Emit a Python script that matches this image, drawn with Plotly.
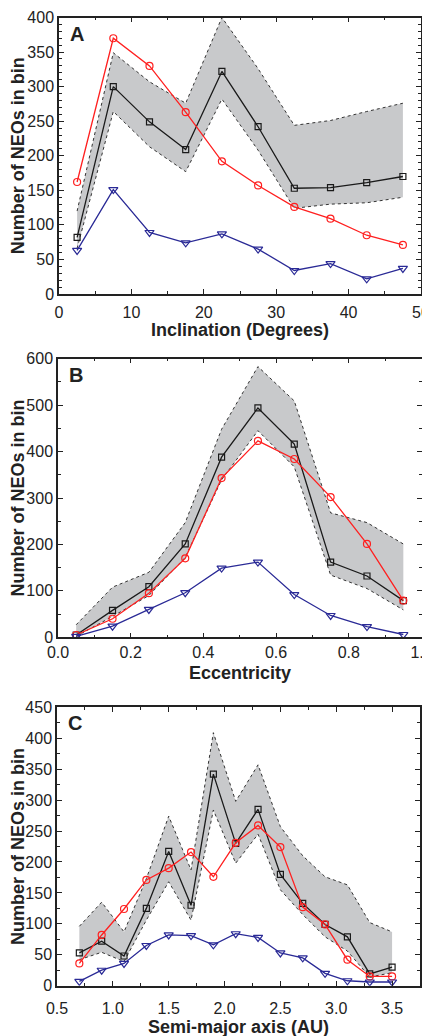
import plotly.graph_objects as go

# ---------------- Data ----------------
incl_x = [2.5, 7.5, 12.5, 17.5, 22.5, 27.5, 32.5, 37.5, 42.5, 47.5]
incl_model = [82, 300, 249, 209, 322, 242, 153, 154, 161, 170]
incl_upper = [120, 349, 307, 276, 400, 326, 244, 251, 264, 276]
incl_lower = [66, 264, 213, 177, 282, 208, 124, 130, 132, 140]
incl_obs = [162, 370, 330, 263, 192, 157, 126, 109, 85, 71]
incl_known = [63, 151, 89, 74, 87, 65, 34, 44, 22, 37]

ecc_x = [0.05, 0.15, 0.25, 0.35, 0.45, 0.55, 0.65, 0.75, 0.85, 0.95]
ecc_model = [5, 58, 109, 201, 388, 494, 416, 162, 132, 79]
ecc_upper = [27, 108, 140, 247, 448, 583, 509, 268, 247, 201]
ecc_lower = [2, 45, 90, 172, 339, 445, 367, 134, 105, 59]
ecc_obs = [5, 40, 95, 170, 343, 423, 384, 302, 201, 79]
ecc_known = [2, 24, 60, 96, 149, 162, 92, 47, 23, 6]

sma_x = [0.7, 0.9, 1.1, 1.3, 1.5, 1.7, 1.9, 2.1, 2.3, 2.5, 2.7, 2.9, 3.1, 3.3, 3.5]
sma_model = [53, 72, 48, 125, 217, 130, 342, 230, 285, 180, 133, 99, 79, 19, 30]
sma_upper = [96, 135, 87, 173, 274, 187, 409, 298, 357, 257, 210, 176, 163, 102, 87]
sma_lower = [42, 54, 39, 106, 168, 106, 284, 198, 245, 155, 115, 79, 56, 14, 21]
sma_obs = [36, 82, 124, 171, 190, 216, 176, 231, 259, 224, 127, 99, 42, 15, 15]
sma_known = [7, 25, 36, 65, 82, 81, 66, 84, 78, 53, 45, 20, 8, 6, 6]

incl_ticks = [0, 10, 20, 30, 40, 50]
ecc_ticks = [0.0, 0.2, 0.4, 0.6, 0.8, 1.0]
sma_ticks = [0.5, 1.0, 1.5, 2.0, 2.5, 3.0, 3.5]

panel_labels = ["A", "B", "C"]
x_titles = ["Inclination (Degrees)", "Eccentricity", "Semi-major axis (AU)"]
y_title = "Number of NEOs in bin"

# ---------------- Style ----------------
PAGE_W, PAGE_H = 430, 1036
OFF = 8  # default body margin of the html page
W, H = PAGE_W - OFF, PAGE_H - OFF
FONT = "Liberation Sans, Arial, sans-serif"
BLACK = "#1a1a1a"
RED = "#ff2020"
BLUE = "#2a2a96"
BAND = "#c8c9cb"
INK = "#222222"

# page-pixel boxes of the plot areas: (left, right, top, bottom)
boxes = [(59, 421, 17.5, 294), (58, 421.5, 358.7, 637.3), (57, 420, 707.3, 985.7)]

def px_x(v):
    return (v - OFF) / W

def px_y(v):
    return 1 - (v - OFF) / H

fig = go.Figure()

datasets = [
    (incl_x, incl_model, incl_upper, incl_lower, incl_obs, incl_known),
    (ecc_x, ecc_model, ecc_upper, ecc_lower, ecc_obs, ecc_known),
    (sma_x, sma_model, sma_upper, sma_lower, sma_obs, sma_known),
]

for i, (x, model, up, lo, obs, known) in enumerate(datasets):
    xa = "x" if i == 0 else f"x{i+1}"
    ya = "y" if i == 0 else f"y{i+1}"
    fig.add_trace(go.Scatter(x=x, y=lo, mode="lines", xaxis=xa, yaxis=ya,
                             line=dict(color="#333333", width=1, dash="dot"),
                             showlegend=False, hoverinfo="skip"))
    fig.add_trace(go.Scatter(x=x, y=up, mode="lines", xaxis=xa, yaxis=ya,
                             fill="tonexty", fillcolor=BAND,
                             line=dict(color="#333333", width=1, dash="dot"),
                             showlegend=False, hoverinfo="skip"))
    fig.add_trace(go.Scatter(x=x, y=model, mode="lines+markers", xaxis=xa, yaxis=ya,
                             line=dict(color=BLACK, width=1.3),
                             marker=dict(symbol="square-open", size=6, color=BLACK,
                                         line=dict(width=1.2, color=BLACK)),
                             showlegend=False))
    fig.add_trace(go.Scatter(x=x, y=obs, mode="lines+markers", xaxis=xa, yaxis=ya,
                             line=dict(color=RED, width=1.3),
                             marker=dict(symbol="circle-open", size=7, color=RED,
                                         line=dict(width=1.2, color=RED)),
                             showlegend=False))
    fig.add_trace(go.Scatter(x=x, y=known, mode="lines+markers", xaxis=xa, yaxis=ya,
                             line=dict(color=BLUE, width=1.3),
                             marker=dict(symbol="triangle-down-open", size=8, color=BLUE,
                                         line=dict(width=1.2, color=BLUE)),
                             showlegend=False))

x_cfg = [
    dict(range=[0, 50], ticks_=incl_ticks, minor_dtick=5, tick0=0, standoff=3, fmt=""),
    dict(range=[0, 1.0], ticks_=ecc_ticks, minor_dtick=0.1, tick0=0, standoff=0, fmt=".1f"),
    dict(range=[0.5, 3.75], ticks_=sma_ticks, minor_dtick=0.25, tick0=0.5, standoff=7, fmt=".1f"),
]
y_cfg = [
    dict(range=[0, 400], dtick=50, minor_dtick=10),
    dict(range=[0, 600], dtick=100, minor_dtick=50),
    dict(range=[0, 450], dtick=50, minor_dtick=25),
]
x_title_offsets = [36, 36, 41]

layout = dict(
    width=W, height=H,
    margin=dict(l=0, r=0, t=0, b=0, autoexpand=False),
    paper_bgcolor="white", plot_bgcolor="white",
    font=dict(family=FONT, color=INK),
    showlegend=False,
    annotations=[],
)

for i in range(3):
    l, r, t, b = boxes[i]
    xc, yc = x_cfg[i], y_cfg[i]
    sfx = "" if i == 0 else str(i + 1)
    tv = xc["ticks_"]
    tt = [format(v, xc["fmt"]) for v in tv]
    xaxis = dict(
        domain=[px_x(l), px_x(r)], anchor="y" + sfx, range=xc["range"],
        tickmode="array", tickvals=tv, ticktext=tt,
        ticks="inside", ticklen=5, tickwidth=1, tickcolor=INK,
        minor=dict(ticks="inside", ticklen=3, tickwidth=1, tickcolor=INK,
                   tickmode="linear", dtick=xc["minor_dtick"], tick0=xc["tick0"],
                   showgrid=False),
        showline=True, linecolor=INK, linewidth=1.5, mirror="ticks",
        showgrid=False, zeroline=False, automargin=False,
        tickfont=dict(size=16, family=FONT, color=INK),
        ticklabelstandoff=xc["standoff"],
        ticklabeloverflow="allow",
    )
    yaxis = dict(
        domain=[px_y(b), px_y(t)], anchor="x" + sfx, range=yc["range"],
        tickmode="linear", tick0=0, dtick=yc["dtick"],
        ticks="inside", ticklen=5, tickwidth=1, tickcolor=INK,
        minor=dict(ticks="inside", ticklen=3, tickwidth=1, tickcolor=INK,
                   dtick=yc["minor_dtick"], tick0=0, showgrid=False),
        showline=True, linecolor=INK, linewidth=1.5, mirror="ticks",
        showgrid=False, zeroline=False, automargin=False,
        tickfont=dict(size=16, family=FONT, color=INK),
        ticklabelstandoff=0,
    )
    layout["xaxis" + sfx] = xaxis
    layout["yaxis" + sfx] = yaxis

    # panel letter
    layout["annotations"].append(dict(
        text=f"<b>{panel_labels[i]}</b>", xref="paper", yref="paper",
        x=px_x(l + 9), y=px_y(t + 16), xanchor="left", yanchor="middle",
        showarrow=False, font=dict(size=20, family=FONT, color=INK)))
    # x axis title
    layout["annotations"].append(dict(
        text=f"<b>{x_titles[i]}</b>", xref="paper", yref="paper",
        x=px_x((l + r) / 2), y=px_y(b + x_title_offsets[i]),
        xanchor="center", yanchor="middle",
        showarrow=False, font=dict(size=18, family=FONT, color=INK)))
    # y axis title
    layout["annotations"].append(dict(
        text=f"<b>{y_title}</b>", xref="paper", yref="paper",
        x=px_x(17.5), y=px_y((t + b) / 2), xanchor="center", yanchor="middle",
        textangle=-90,
        showarrow=False, font=dict(size=18, family=FONT, color=INK)))

fig.update_layout(**layout)
fig.write_html("out.html")
